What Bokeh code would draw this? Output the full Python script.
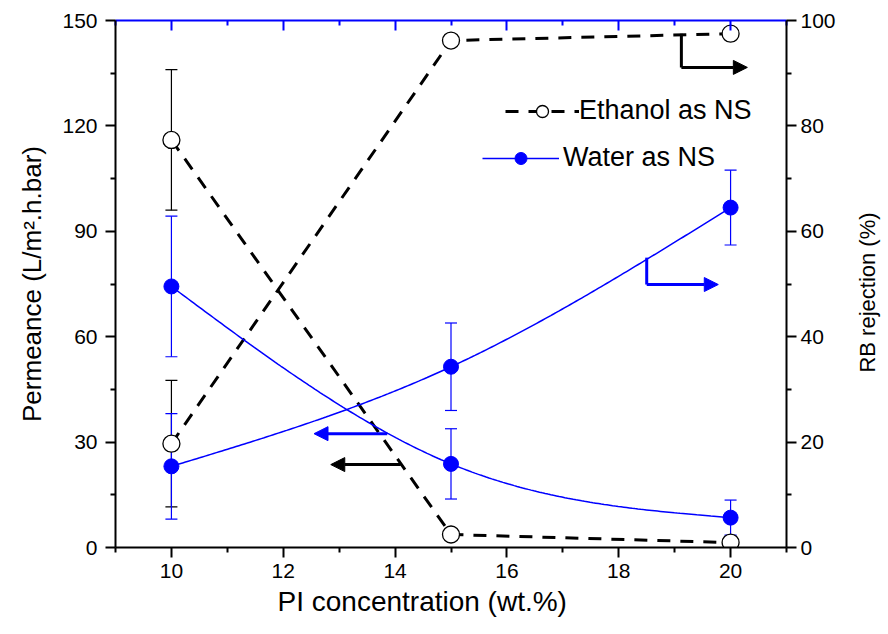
import numpy as np
from bokeh.plotting import figure
from bokeh.models import (Range1d, LinearAxis, FixedTicker, Whisker, ColumnDataSource,
                          Legend, LegendItem, Arrow, NormalHead, TeeHead, Title, Label)
from bokeh.embed import file_html
from bokeh.resources import INLINE

# PI concentration in the casting solution (wt.%)
concentration = [10, 15, 20]

# Ethanol used as non-solvent
ethanol_permeance = [116.0, 3.7, 1.4]
ethanol_permeance_err = [20.0, 1.0, 1.0]
ethanol_rejection = [19.7, 96.2, 97.5]
ethanol_rejection_err = [12.0, 1.0, 1.0]

# Water used as non-solvent
water_permeance = [74.3, 23.8, 8.5]
water_permeance_err = [20.0, 10.0, 5.0]
water_rejection = [15.4, 34.3, 64.5]
water_rejection_err = [10.0, 8.3, 7.1]

x_major_ticks = [10, 12, 14, 16, 18, 20]
x_minor_ticks = [9, 11, 13, 15, 17, 19, 21]
permeance_ticks = [0, 30, 60, 90, 120, 150]
permeance_minor = [15, 45, 75, 105, 135]
rejection_ticks = [0, 20, 40, 60, 80, 100]
rejection_minor = [10, 30, 50, 70, 90]

FONT = "Liberation Sans"
BLUE = "#0000FF"


def natural_spline(xs, ys, n=200):
    """Smooth connecting curve (natural cubic spline) through the measured points."""
    xs = np.asarray(xs, float)
    ys = np.asarray(ys, float)
    k = len(xs)
    h = np.diff(xs)
    A = np.zeros((k, k))
    b = np.zeros(k)
    A[0, 0] = A[-1, -1] = 1.0
    for i in range(1, k - 1):
        A[i, i - 1] = h[i - 1]
        A[i, i] = 2 * (h[i - 1] + h[i])
        A[i, i + 1] = h[i]
        b[i] = 6 * ((ys[i + 1] - ys[i]) / h[i] - (ys[i] - ys[i - 1]) / h[i - 1])
    M = np.linalg.solve(A, b)
    xx = np.linspace(xs[0], xs[-1], n)
    idx = np.clip(np.searchsorted(xs, xx) - 1, 0, k - 2)
    x0, x1 = xs[idx], xs[idx + 1]
    hh = x1 - x0
    t0, t1 = x1 - xx, xx - x0
    yy = (M[idx] * t0 ** 3 / (6 * hh) + M[idx + 1] * t1 ** 3 / (6 * hh)
          + (ys[idx] / hh - M[idx] * hh / 6) * t0
          + (ys[idx + 1] / hh - M[idx + 1] * hh / 6) * t1)
    return xx, yy


p = figure(width=888, height=634, x_range=Range1d(9, 21), y_range=Range1d(0, 150),
           output_backend="svg", toolbar_location=None,
           min_border_left=115, min_border_right=102, min_border_top=20, min_border_bottom=87)
p.extra_y_ranges = {"rej": Range1d(0, 100)}
p.grid.visible = False
p.outline_line_color = None
p.background_fill_color = "white"


def style_axis(ax, color="black"):
    ax.axis_line_color = color
    ax.axis_line_width = 2
    ax.major_tick_line_color = color
    ax.minor_tick_line_color = color
    ax.major_tick_line_width = 2
    ax.minor_tick_line_width = 2
    ax.major_tick_in = 0
    ax.major_tick_out = 10
    ax.minor_tick_in = 0
    ax.minor_tick_out = 5
    ax.major_label_text_font = FONT
    ax.major_label_text_font_size = "21px"
    ax.major_label_text_color = "black"
    ax.axis_label_text_font = FONT
    ax.axis_label_text_font_style = "normal"
    ax.axis_label_text_color = "black"


# bottom axis
xa = p.xaxis[0]
xa.ticker = FixedTicker(ticks=x_major_ticks, minor_ticks=x_minor_ticks)
style_axis(xa)
xa.major_label_standoff = 6

# x title, left-aligned under the frame
p.add_layout(Title(text="PI concentration (wt.%)", align="left", offset=162, standoff=6,
                   text_font=FONT, text_font_size="28px", text_font_style="normal",
                   text_color="black"), "below")

# left axis: permeance
ya = p.yaxis[0]
ya.ticker = FixedTicker(ticks=permeance_ticks, minor_ticks=permeance_minor)
style_axis(ya)
ya.axis_label = "Permeance (L/m².h.bar)"
ya.axis_label_text_font_size = "26px"
ya.major_label_standoff = 8
ya.axis_label_standoff = 12

# right axis: rejection
ra = LinearAxis(y_range_name="rej",
                ticker=FixedTicker(ticks=rejection_ticks, minor_ticks=rejection_minor))
style_axis(ra)
ra.major_label_standoff = 4
p.add_layout(ra, "right")

# right-hand title, reading bottom to top, in its own side panel
p.add_layout(Label(x=29, y=255, x_units="screen", y_units="screen", angle=np.pi / 2,
                   text="RB rejection (%)", text_font=FONT, text_font_size="22px",
                   text_color="black", text_align="center", text_baseline="middle"),
             "right")

# blue top frame line with inward ticks (unlabelled)
ta = LinearAxis(ticker=FixedTicker(ticks=x_major_ticks, minor_ticks=x_minor_ticks))
style_axis(ta, BLUE)
ta.major_tick_in = 10
ta.major_tick_out = 0
ta.minor_tick_in = 5
ta.minor_tick_out = 0
ta.major_label_overrides = {t: "" for t in x_major_ticks}
ta.major_label_standoff = 0
p.add_layout(ta, "above")


def error_bars(ys, errs, color, range_name="default"):
    src = ColumnDataSource(dict(base=concentration,
                                upper=[y + e for y, e in zip(ys, errs)],
                                lower=[y - e for y, e in zip(ys, errs)]))
    w = Whisker(source=src, base="base", upper="upper", lower="lower",
                line_color=color, line_width=1.2, level="underlay",
                upper_head=TeeHead(size=12, line_color=color, line_width=1.2),
                lower_head=TeeHead(size=12, line_color=color, line_width=1.2))
    if range_name != "default":
        w.y_range_name = range_name
    p.add_layout(w)


DASH = "13 10"

# ---- ethanol as non-solvent (dashed, open circles)
error_bars(ethanol_permeance, ethanol_permeance_err, "black")
error_bars(ethanol_rejection, ethanol_rejection_err, "black", "rej")
eth_perm_line = p.line(concentration, ethanol_permeance, line_color="black",
                       line_width=3, line_dash=DASH)
eth_rej_line = p.line(concentration, ethanol_rejection, line_color="black",
                      line_width=3, line_dash=DASH, y_range_name="rej")
eth_perm_pts = p.scatter(concentration, ethanol_permeance, marker="circle", size=17,
                         fill_color="white", line_color="black", line_width=1.3)
p.scatter(concentration, ethanol_rejection, marker="circle", size=17,
          fill_color="white", line_color="black", line_width=1.3, y_range_name="rej")

# ---- water as non-solvent (smooth solid, filled circles)
error_bars(water_permeance, water_permeance_err, BLUE)
error_bars(water_rejection, water_rejection_err, BLUE, "rej")
sx, sy = natural_spline(concentration, water_permeance)
wat_perm_line = p.line(sx, sy, line_color=BLUE, line_width=1.5)
sx, sy = natural_spline(concentration, water_rejection)
p.line(sx, sy, line_color=BLUE, line_width=1.5, y_range_name="rej")
wat_perm_pts = p.scatter(concentration, water_permeance, marker="circle", size=15,
                         fill_color=BLUE, line_color=BLUE)
p.scatter(concentration, water_rejection, marker="circle", size=15,
          fill_color=BLUE, line_color=BLUE, y_range_name="rej")


# ---- arrows indicating which axis each curve belongs to
def arrow(x0, y0, x1, y1, color, range_name="default"):
    a = Arrow(x_start=x0, y_start=y0, x_end=x1, y_end=y1, line_color=color, line_width=3,
              end=NormalHead(size=14, fill_color=color, line_color=color, line_width=1))
    if range_name != "default":
        a.y_range_name = range_name
    p.add_layout(a)


arrow(14.10, 23.6, 12.85, 23.6, "black")
arrow(13.86, 32.4, 12.55, 32.4, BLUE)
p.segment(x0=[19.12], y0=[97.5], x1=[19.12], y1=[91.1], line_color="black",
          line_width=3, y_range_name="rej")
arrow(19.12, 91.1, 20.30, 91.1, "black", "rej")
p.segment(x0=[18.50], y0=[55.0], x1=[18.50], y1=[49.9], line_color=BLUE,
          line_width=3, y_range_name="rej")
arrow(18.50, 49.9, 19.78, 49.9, BLUE, "rej")


# ---- legends
def make_legend(label, renderers, loc, glyph_width, standoff):
    lg = Legend(items=[LegendItem(label=label, renderers=renderers)], location=loc,
                glyph_width=glyph_width, glyph_height=30, label_height=30,
                label_standoff=standoff, padding=0, margin=0, spacing=0,
                border_line_alpha=0, background_fill_alpha=0,
                label_text_font=FONT, label_text_font_size="27px",
                label_text_color="black")
    p.add_layout(lg)


make_legend("Ethanol as NS", [eth_perm_line, eth_perm_pts], (390, 421), 74, 0)
make_legend("Water as NS", [wat_perm_line, wat_perm_pts], (367, 374), 77, 4)

open("out.html", "w").write(file_html(p, INLINE))
